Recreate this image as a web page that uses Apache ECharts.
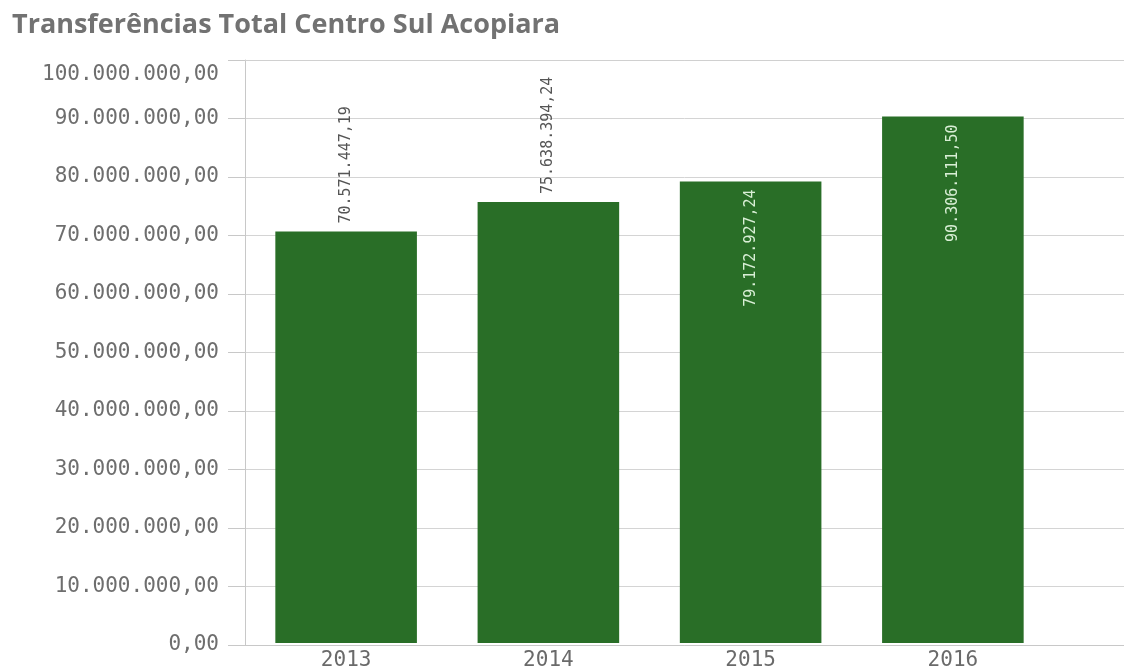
<!DOCTYPE html>
<html>
<head>
<meta charset="utf-8">
<script src="https://cdn.jsdelivr.net/npm/echarts@6/dist/echarts.min.js"></script>
<style>
html,body{margin:0;padding:0;background:#fff;}
#c{width:1124px;height:671px;}
</style>
</head>
<body>
<div id="c"></div>
<script>
// ---- data ----
const titleText = 'Transferências Total Centro Sul Acopiara';
const years = ['2013', '2014', '2015', '2016'];
const values = [70571447.19, 75638394.24, 79172927.24, 90306111.50];
const yMin = 0;
const yMax = 100000000;
const yStep = 10000000;
const labelInside = [false, false, true, true];

function fmtBR(v) {
  const parts = Number(v).toFixed(2).split('.');
  const intPart = parts[0].replace(/\B(?=(\d{3})+(?!\d))/g, '.');
  return intPart + ',' + parts[1];
}

const mono = '"DejaVu Sans Mono", monospace';
const barColor = '#296e27';

const outsideLabel = {
  show: true, position: 'top', rotate: 90, align: 'left', verticalAlign: 'middle',
  distance: 8, color: '#555', fontFamily: mono, fontSize: 15,
  formatter: p => fmtBR(p.value)
};
const insideLabel = {
  show: true, position: 'insideTop', rotate: 90, align: 'right', verticalAlign: 'middle',
  distance: 8, color: '#d9efd6', fontFamily: mono, fontSize: 15,
  formatter: p => fmtBR(p.value)
};

const chart = echarts.init(document.getElementById('c'), null, {renderer: 'canvas'});
chart.setOption({
  animation: false,
  backgroundColor: '#fff',
  title: {
    text: titleText, left: 7, top: 7,
    textStyle: {fontFamily: '"Open Sans"', fontWeight: 'bold', fontSize: 27, color: '#727272'}
  },
  grid: [
    {left: 245, right: 0, top: 60, bottom: 26},
    {left: 245, right: 70, top: 60, bottom: 26}
  ],
  xAxis: [
    {gridIndex: 0, type: 'value', min: 0, max: 1, position: 'bottom',
     axisLine: {show: true, lineStyle: {color: '#c8c8c8', width: 1}},
     axisTick: {show: false}, axisLabel: {show: false}, splitLine: {show: false}},
    {gridIndex: 0, type: 'value', min: 0, max: 1, position: 'top',
     axisLine: {show: true, lineStyle: {color: '#d0d0d0', width: 1}},
     axisTick: {show: false}, axisLabel: {show: false}, splitLine: {show: false}},
    {gridIndex: 1, type: 'category', data: years, position: 'bottom',
     axisLine: {show: false}, axisTick: {show: false},
     axisLabel: {margin: 7, color: '#6a6a6a', fontFamily: mono, fontSize: 21}}
  ],
  yAxis: [
    {gridIndex: 0, type: 'value', min: yMin, max: yMax, interval: yStep,
     axisLine: {show: true, lineStyle: {color: '#c8c8c8', width: 1}},
     axisTick: {show: true, length: 17, lineStyle: {color: '#c8c8c8'}},
     splitLine: {show: true, lineStyle: {color: '#d4d4d4', width: 1}},
     axisLabel: {
       margin: 26, color: '#6e6e6e', fontFamily: mono, fontSize: 21, lineHeight: 30,
       formatter: v => v === yMax ? '\n' + fmtBR(v) : fmtBR(v)
     }},
    {gridIndex: 1, type: 'value', min: yMin, max: yMax, interval: yStep, show: false,
     splitLine: {show: false}}
  ],
  series: [{
    type: 'bar',
    xAxisIndex: 2, yAxisIndex: 1,
    barCategoryGap: '30%',
    itemStyle: {color: barColor},
    data: values.map((v, i) => ({value: v, label: labelInside[i] ? insideLabel : outsideLabel}))
  }]
});
</script>
</body>
</html>
